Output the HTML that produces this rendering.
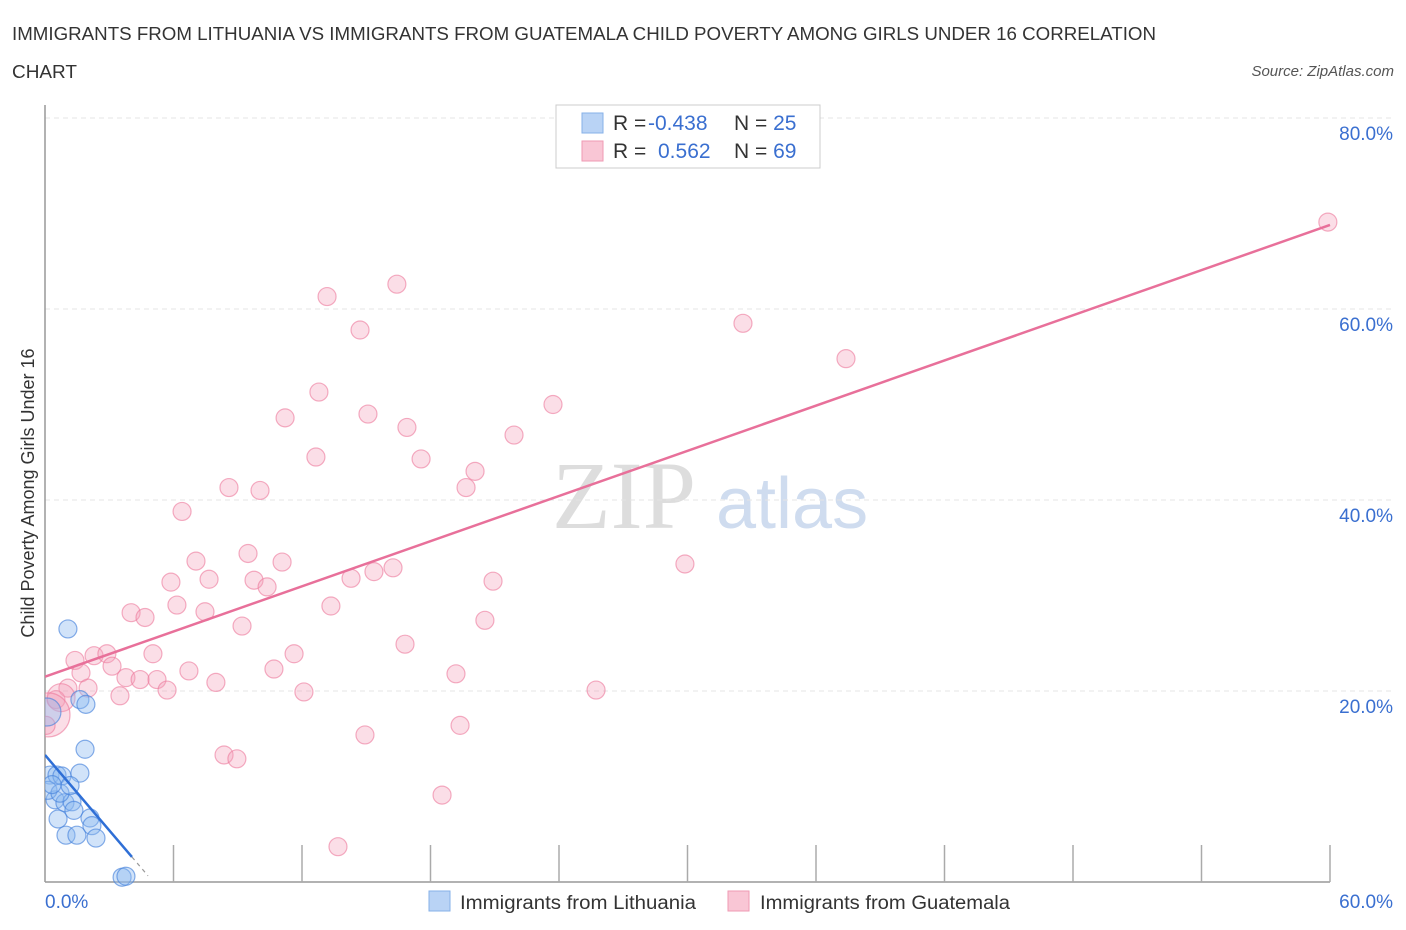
<!DOCTYPE html>
<html><head><meta charset="utf-8">
<style>
body{margin:0;background:#fff;font-family:"Liberation Sans",sans-serif;}
svg{display:block}
</style></head>
<body>
<svg id="chart" width="1406" height="930" xmlns="http://www.w3.org/2000/svg">
<text x="12" y="40" font-size="18" fill="#333" textLength="1144" lengthAdjust="spacingAndGlyphs">IMMIGRANTS FROM LITHUANIA VS IMMIGRANTS FROM GUATEMALA CHILD POVERTY AMONG GIRLS UNDER 16 CORRELATION</text>
<text x="12" y="78" font-size="18" fill="#333" textLength="65" lengthAdjust="spacingAndGlyphs">CHART</text>
<text x="1394" y="76" font-size="15" fill="#555" font-style="italic" text-anchor="end">Source: ZipAtlas.com</text>
<text x="0" y="0" transform="translate(34,493) rotate(-90)" font-size="18" fill="#333" text-anchor="middle">Child Poverty Among Girls Under 16</text>
<g>
<text x="552" y="528" font-size="96" font-family="Liberation Serif,serif" fill="#ddd">ZIP</text>
<text x="716" y="528" font-size="72" fill="#cfdcef">atlas</text>
</g>
<g id="grid"></g>
<g id="axes"></g>
<defs><clipPath id="pc"><rect x="45" y="100" width="1361" height="790"/></clipPath></defs>
<g id="marks" clip-path="url(#pc)"></g>
<g>
<rect x="556" y="105" width="264" height="63" fill="#fff" stroke="#ccc"/>
<rect x="582" y="113" width="21" height="20" fill="#b9d3f5" stroke="#86b0e8"/>
<rect x="582" y="141" width="21" height="20" fill="#f9c6d5" stroke="#ef9ab3"/>
<text x="613" y="130" font-size="21" fill="#333">R = <tspan x="648" fill="#3a6fd0">-0.438</tspan><tspan x="734">N = </tspan><tspan fill="#3a6fd0">25</tspan></text>
<text x="613" y="158" font-size="21" fill="#333">R = <tspan x="658" fill="#3a6fd0">0.562</tspan><tspan x="734">N = </tspan><tspan fill="#3a6fd0">69</tspan></text>
</g>
<g>
<rect x="429" y="891" width="21" height="20" fill="#b9d3f5" stroke="#86b0e8"/>
<text x="460" y="909" font-size="19" fill="#333" textLength="236" lengthAdjust="spacingAndGlyphs">Immigrants from Lithuania</text>
<rect x="728" y="891" width="21" height="20" fill="#f9c6d5" stroke="#ef9ab3"/>
<text x="760" y="909" font-size="19" fill="#333" textLength="250" lengthAdjust="spacingAndGlyphs">Immigrants from Guatemala</text>
</g>
</svg>
<script>
const blueX=[1.07,0.09,1.63,1.91,1.87,0.23,0.56,0.79,1.63,0.47,0.93,1.26,1.35,0.61,0.98,1.49,2.10,2.19,2.38,0.14,3.60,3.78,0.70,1.17,0.33];
const blueY=[26.5,17.8,19.1,18.6,13.9,11.2,11.2,11.1,11.4,8.6,8.3,8.4,7.5,6.6,4.9,4.9,6.7,5.9,4.6,9.6,0.5,0.6,9.3,10.1,10.2];
const pinkX=[59.9,16.43,13.17,14.71,32.59,37.40,12.79,23.72,11.21,15.08,16.90,21.90,12.65,17.56,20.08,19.66,8.59,10.04,6.40,9.48,7.05,11.07,29.88,5.88,7.66,9.76,10.37,14.29,15.36,16.25,20.92,6.16,4.02,4.67,7.47,13.35,9.20,20.54,16.81,5.04,11.63,1.40,2.29,2.89,3.13,1.68,6.72,10.69,3.78,4.44,5.23,7.98,19.19,5.70,2.01,1.07,3.50,12.09,25.73,0.51,0.75,0.14,0.05,19.38,14.94,8.36,8.96,18.54,13.68];
const pinkY=[69.1,62.6,61.3,57.8,58.5,54.8,51.3,50.0,48.6,49.0,47.6,46.8,44.5,44.3,43.0,41.3,41.3,41.0,38.8,34.4,33.6,33.5,33.3,31.4,31.7,31.6,30.9,31.8,32.5,32.9,31.5,29.0,28.2,27.7,28.3,28.9,26.8,27.4,24.9,23.9,23.9,23.2,23.7,23.9,22.6,21.9,22.1,22.3,21.4,21.2,21.2,20.9,21.8,20.1,20.3,20.3,19.5,19.9,20.1,19.1,19.3,17.5,16.4,16.4,15.4,13.3,12.9,9.1,3.7];
const yTicks=[20,40,60,80];
const yTickLabels=["20.0%","40.0%","60.0%","80.0%"];
const xTicks=[6,12,18,24,30,36,42,48,54,60];
const blueLine=[[0,13.3],[4.06,2.62]];
const pinkLine=[[0,21.5],[60,68.8]];
const NS="http://www.w3.org/2000/svg";
const X=v=>45+v/60*1285, Y=v=>882-v/20*191;
function mk(tag,attrs,parent){const e=document.createElementNS(NS,tag);for(const k in attrs)e.setAttribute(k,attrs[k]);parent.appendChild(e);return e;}
const grid=document.getElementById('grid'),axes=document.getElementById('axes'),marks=document.getElementById('marks');
yTicks.forEach((t,i)=>{
 const l=mk('line',{x1:45,x2:1395,y1:Y(t),y2:Y(t),stroke:'#e4e4e4','stroke-dasharray':'5,4'},grid);
 
 
 const tx=mk('text',{x:1393,y:Y(t)+22,'font-size':19,fill:'#3a6fd0','text-anchor':'end'},axes);
 tx.textContent=yTickLabels[i];
 
 
});
const ya=mk('line',{x1:45,x2:45,y1:105,y2:882,stroke:'#999','stroke-width':1.5},axes);


const xa=mk('line',{x1:45,x2:1330,y1:882,y2:882,stroke:'#999','stroke-width':1.5},axes);


xTicks.forEach(t=>{
 const l=mk('line',{x1:X(t),x2:X(t),y1:845,y2:882,stroke:'#aaa','stroke-width':1.5},axes);
 
 
});
const xl0=mk('text',{x:45,y:908,'font-size':19,fill:'#3a6fd0'},axes);xl0.textContent='0.0%';


const xl1=mk('text',{x:1393,y:908,'font-size':19,fill:'#3a6fd0','text-anchor':'end'},axes);xl1.textContent='60.0%';


pinkX.forEach((x,i)=>{
 const r=(i===pinkX.length-8)?22:(i===pinkX.length-9?14:9);
 const c=mk('circle',{cx:X(x),cy:Y(pinkY[i]),r:r,fill:'rgba(244,160,187,0.35)',stroke:'rgba(236,120,155,0.6)','stroke-width':1.2},marks);
 
 
});
blueX.forEach((x,i)=>{
 const r=i===1?14:9;
 const c=mk('circle',{cx:X(x),cy:Y(blueY[i]),r:r,fill:'rgba(140,185,240,0.4)',stroke:'rgba(70,130,220,0.65)','stroke-width':1.2},marks);
 
 
});
const pl=mk('line',{x1:X(pinkLine[0][0]),y1:Y(pinkLine[0][1]),x2:X(pinkLine[1][0]),y2:Y(pinkLine[1][1]),stroke:'#e8709a','stroke-width':2.5},marks);


const bl=mk('line',{x1:X(blueLine[0][0]),y1:Y(blueLine[0][1]),x2:X(blueLine[1][0]),y2:Y(blueLine[1][1]),stroke:'#2f6fd6','stroke-width':2.5},marks);


const slope=(blueLine[1][1]-blueLine[0][1])/(blueLine[1][0]-blueLine[0][0]);
const xe=blueLine[1][0]+0.75;
const bd=mk('line',{x1:X(blueLine[1][0]),y1:Y(blueLine[1][1]),x2:X(xe),y2:Y(blueLine[0][1]+slope*xe),stroke:'#999','stroke-width':1.2,'stroke-dasharray':'4,4'},marks);


</script>
</body></html>
